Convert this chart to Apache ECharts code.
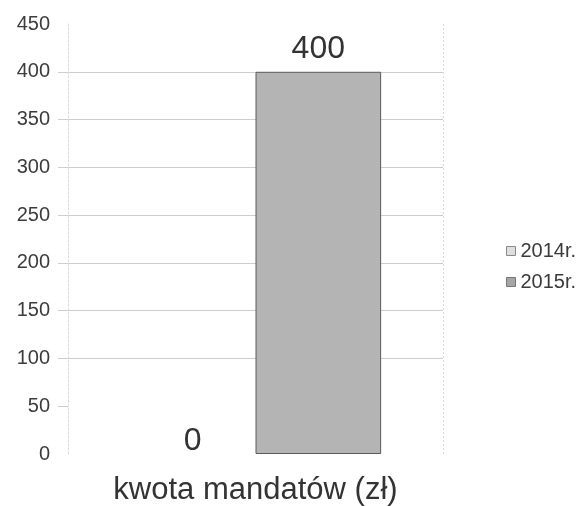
<!DOCTYPE html>
<html>
<head>
<meta charset="utf-8">
<script src="https://cdn.jsdelivr.net/npm/echarts@6/dist/echarts.min.js"></script>
<style>
  html, body { margin: 0; padding: 0; background: #fff; }
  #chart { width: 583px; height: 506px; }
</style>
</head>
<body>
<div id="chart"></div>
<script>
// Fine amounts by year
const categories = ['kwota mandatów (zł)'];
const seriesNames = ['2014r.', '2015r.'];
const values2014 = [0];
const values2015 = [400];
const yMin = 0;
const yMax = 450;
const yStep = 50;
const yTickValues = [0, 50, 100, 150, 200, 250, 300, 350, 400, 450];
const yInnerTicks = [50, 100, 150, 200, 250, 300, 350, 400];

const chart = echarts.init(document.getElementById('chart'));
const font = '"Liberation Sans", Arial, sans-serif';
const gridColor = '#cdcdcd';

// outermost gridlines (0 and 450) are left undrawn
const splitColors = yTickValues.map((v, i) =>
  (i === 0 || i === yTickValues.length - 1) ? 'rgba(0,0,0,0)' : gridColor);

chart.setOption({
  animation: false,
  backgroundColor: '#ffffff',
  textStyle: { fontFamily: font },
  grid: { left: 68, right: 140, top: 24, bottom: 52 },
  legend: {
    orient: 'vertical',
    left: 501,
    top: 236,
    itemWidth: 9,
    itemHeight: 9,
    itemGap: 11,
    icon: 'rect',
    textStyle: { fontSize: 20, color: '#3a3a3a', fontFamily: font },
    data: [
      { name: seriesNames[0], itemStyle: { color: '#dedede', borderColor: '#8a8a8a', borderWidth: 1 } },
      { name: seriesNames[1], itemStyle: { color: '#a6a6a6', borderColor: '#777', borderWidth: 1 } }
    ]
  },
  xAxis: {
    type: 'category',
    data: categories,
    axisLine: { show: false },
    axisTick: { show: false },
    axisLabel: { fontSize: 31, color: '#333', margin: 21, fontFamily: font },
    splitLine: { show: true, lineStyle: { color: '#d8d8d8', type: [2, 2], width: 1 } }
  },
  yAxis: {
    type: 'value',
    min: yMin,
    max: yMax,
    interval: yStep,
    axisLine: { show: true, lineStyle: { color: '#dadada', type: [2, 2] } },
    axisTick: { show: true, length: 10, customValues: yInnerTicks, lineStyle: { color: gridColor } },
    axisLabel: { fontSize: 20, color: '#3c3c3c', margin: 18, fontFamily: font },
    splitLine: { show: true, lineStyle: { color: splitColors, width: 1 } }
  },
  series: [
    {
      name: seriesNames[0],
      type: 'bar',
      data: values2014,
      barGap: '0%',
      barCategoryGap: '33%',
      itemStyle: { color: '#dedede', borderWidth: 0 },
      label: { show: true, position: 'top', distance: -3, fontSize: 32, color: '#333', fontFamily: font }
    },
    {
      name: seriesNames[1],
      type: 'bar',
      data: values2015,
      barGap: '0%',
      barCategoryGap: '33%',
      itemStyle: { color: '#b4b4b4', borderColor: '#5a5a5a', borderWidth: 1 },
      label: { show: true, position: 'top', distance: 7, fontSize: 32, color: '#333', fontFamily: font }
    }
  ]
});
</script>
</body>
</html>
